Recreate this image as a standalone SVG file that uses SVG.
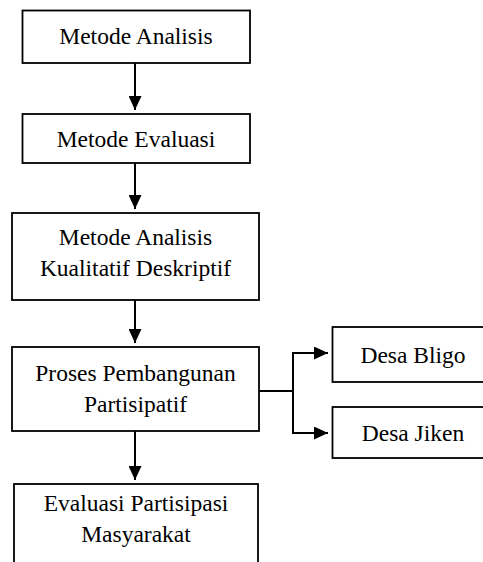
<svg xmlns="http://www.w3.org/2000/svg" width="483" height="562" viewBox="0 0 483 562">
  <style>
    .box { fill: #ffffff; stroke: #000000; stroke-width: 1.8; }
    .lbl { font-family: "Liberation Serif", "Times New Roman", serif; font-size: 23.5px; fill: #000000; text-anchor: middle; }
    .conn { fill: none; stroke: #000000; stroke-width: 2; }
  </style>
  <defs>
    <marker id="arrow" viewBox="0 0 14 13" refX="14" refY="6.5" markerWidth="14" markerHeight="13" markerUnits="userSpaceOnUse" orient="auto">
      <path d="M0,0 L14,6.5 L0,13 Z" fill="#000000"/>
    </marker>
  </defs>
  <rect width="483" height="562" fill="#ffffff"/>

  <g id="connectors">
    <line class="conn" x1="135" y1="63" x2="135" y2="110" marker-end="url(#arrow)"/>
    <line class="conn" x1="135" y1="163" x2="135" y2="209" marker-end="url(#arrow)"/>
    <line class="conn" x1="135" y1="300" x2="135" y2="343" marker-end="url(#arrow)"/>
    <line class="conn" x1="135" y1="431" x2="135" y2="480" marker-end="url(#arrow)"/>
    <polyline class="conn" points="259,391 293,391"/>
    <line class="conn" x1="293" y1="352" x2="293" y2="434"/>
    <line class="conn" x1="292" y1="353" x2="328" y2="353" marker-end="url(#arrow)"/>
    <line class="conn" x1="292" y1="433" x2="328" y2="433" marker-end="url(#arrow)"/>
  </g>

  <g id="n1">
    <rect class="box" x="22.5" y="10.5" width="227.5" height="52.5"/>
    <text class="lbl" x="136" y="44">Metode Analisis</text>
  </g>
  <g id="n2">
    <rect class="box" x="22.5" y="114" width="227.5" height="49"/>
    <text class="lbl" x="136" y="146.5">Metode Evaluasi</text>
  </g>
  <g id="n3">
    <rect class="box" x="12" y="213" width="247" height="87"/>
    <text class="lbl" x="135.5" y="245">Metode Analisis</text>
    <text class="lbl" x="135.5" y="276">Kualitatif Deskriptif</text>
  </g>
  <g id="n4">
    <rect class="box" x="12" y="347" width="247" height="84"/>
    <text class="lbl" x="135.5" y="381">Proses Pembangunan</text>
    <text class="lbl" x="135.5" y="411.5">Partisipatif</text>
  </g>
  <g id="n5">
    <rect class="box" x="14" y="484" width="244" height="90"/>
    <text class="lbl" x="136" y="510.5">Evaluasi Partisipasi</text>
    <text class="lbl" x="136" y="541.5">Masyarakat</text>
  </g>
  <g id="n6">
    <rect class="box" x="332.5" y="327" width="161" height="55"/>
    <text class="lbl" x="413" y="362.5">Desa Bligo</text>
  </g>
  <g id="n7">
    <rect class="box" x="332.5" y="407" width="161" height="51"/>
    <text class="lbl" x="413" y="440.5">Desa Jiken</text>
  </g>
</svg>
